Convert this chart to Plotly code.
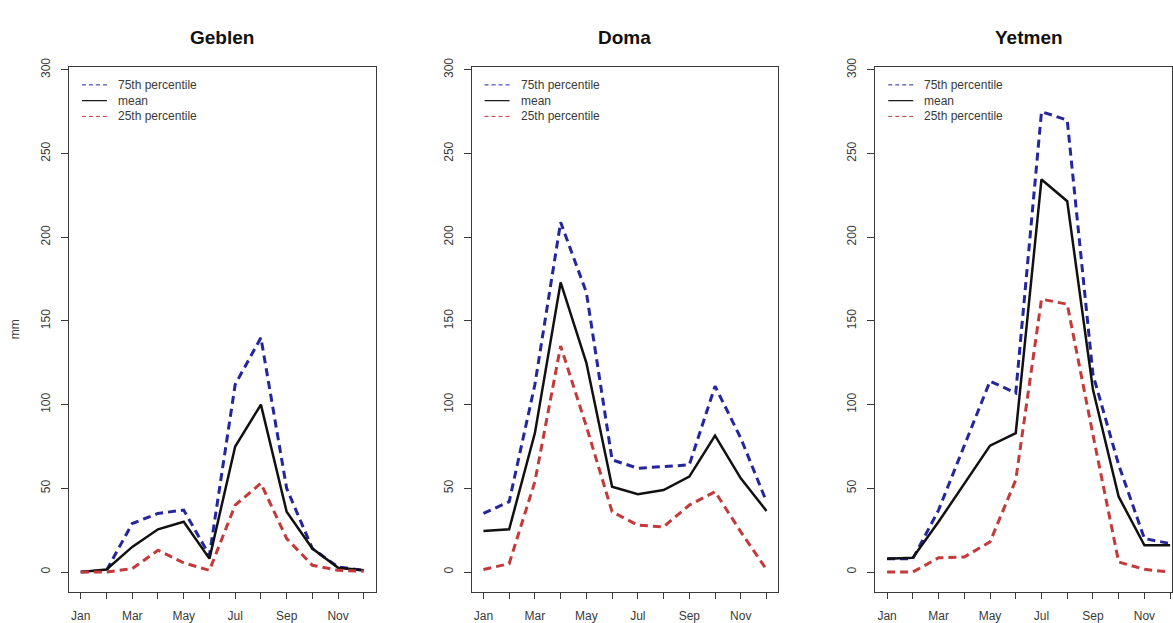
import plotly.graph_objects as go

# ---------------- data ----------------
month_num = list(range(1, 13))
month_labels = ["Jan", "", "Mar", "", "May", "", "Jul", "", "Sep", "", "Nov", ""]
stations = ["Geblen", "Doma", "Yetmen"]

geblen_p75 = [0, 1, 29, 35, 37, 10, 112, 140, 50, 14, 3, 1]
geblen_mean = [0, 1.5, 15, 25.5, 30, 8, 75, 100, 36, 14, 2.5, 1]
geblen_p25 = [0, 0, 2, 13, 5.5, 1, 40, 53, 20, 4, 1, 0.5]

doma_p75 = [35, 42, 112, 209, 167, 67, 62, 63, 64, 111, 80, 42]
doma_mean = [24.5, 25.5, 83, 173, 125, 51, 46.5, 49, 57, 81.5, 56, 36.5]
doma_p25 = [1.5, 5, 54, 135, 87, 36, 28, 27, 40, 48, 24, 1.5]

yetmen_p75 = [8, 8, 37, 76, 114, 107, 275, 270, 118, 64, 20, 17]
yetmen_mean = [8, 8.5, 30, 53, 75.5, 83, 234.5, 221.5, 109, 45, 16, 16]
yetmen_p25 = [0, 0, 8.5, 9, 18, 55, 163, 160, 82, 6, 1.6, 0]

series_names = ["75th percentile", "mean", "25th percentile"]
y_ticks = [0, 50, 100, 150, 200, 250, 300]

data = {
    "Geblen": [geblen_p75, geblen_mean, geblen_p25],
    "Doma": [doma_p75, doma_mean, doma_p25],
    "Yetmen": [yetmen_p75, yetmen_mean, yetmen_p25],
}

# ---------------- styles ----------------
W, H = 1173, 623
BLUE = "#25259c"
RED = "#c43a3a"
BLACK = "#111111"
AXIS = "#3a3a3a"
TXT = "#3a3a3a"
FONT = "Arial, Liberation Sans, sans-serif"
styles = [
    dict(color=BLUE, width=3, dash="8px,5px"),
    dict(color=BLACK, width=2.5, dash="solid"),
    dict(color=RED, width=3, dash="8px,5px"),
]
legend_styles = [
    dict(color=BLUE, width=1, dash="4px,3px"),
    dict(color=BLACK, width=1.2, dash="solid"),
    dict(color=RED, width=1, dash="4px,3px"),
]

# panel boxes in pixels (left, right)
boxes = [(69, 376), (472, 779), (876, 1173)]
top_px, bot_px = 59, 592
px_per_month = 307 / 11.92
x_ranges = [[0.54, 12.46], [0.54, 12.46], [0.54, 0.54 + (1173 - 876) / px_per_month]]
y_range = [-12.2, 301.6]

fig = go.Figure()
annotations = []
shapes = []

for i, name in enumerate(stations):
    ax = "" if i == 0 else str(i + 1)
    for vals, st, sname in zip(data[name], styles, series_names):
        fig.add_trace(go.Scatter(
            x=month_num, y=vals, mode="lines", name=sname,
            line=st, showlegend=False,
            xaxis="x" + ax, yaxis="y" + ax,
        ))
    L, R = boxes[i]
    dom_x = [L / W, R / W]
    dom_y = [(H - bot_px) / H, (H - top_px) / H]
    fig.update_layout(**{
        "xaxis" + ax: dict(
            domain=dom_x, range=x_ranges[i], tickmode="array",
            tickvals=month_num, ticktext=month_labels,
            ticks="outside", ticklen=6, tickcolor=AXIS, tickwidth=1,
            showline=True, linecolor=AXIS, linewidth=1, mirror=True,
            showgrid=False, zeroline=False, anchor="y" + ax,
            ticklabelstandoff=6,
            tickfont=dict(family=FONT, size=12, color=TXT),
        ),
        "yaxis" + ax: dict(
            domain=dom_y, range=y_range, tickmode="array",
            tickvals=y_ticks, tickangle=-90,
            ticks="outside", ticklen=7, tickcolor=AXIS, tickwidth=1,
            showline=True, linecolor=AXIS, linewidth=1, mirror=True,
            showgrid=False, zeroline=False, anchor="x" + ax,
            ticklabelstandoff=6,
            tickfont=dict(family=FONT, size=12, color=TXT),
        ),
    })
    # title
    annotations.append(dict(
        text="<b>%s</b>" % name, xref="paper", yref="paper",
        x=(L + (L + 307)) / 2 / W, y=(H - 29) / H,
        xanchor="center", yanchor="middle", showarrow=False,
        font=dict(family=FONT, size=19, color="#111111"),
    ))
    # legend (key lines + labels)
    for r, (sname, lst) in enumerate(zip(series_names, legend_styles)):
        yy = (H - (77 + 16 * r)) / H
        shapes.append(dict(
            type="line", xref="paper", yref="paper",
            x0=(L + 13) / W, x1=(L + 38) / W, y0=yy, y1=yy,
            line=lst,
        ))
        annotations.append(dict(
            text=sname, xref="paper", yref="paper",
            x=(L + 47) / W, y=yy, xanchor="left", yanchor="middle",
            showarrow=False, font=dict(family=FONT, size=12, color=TXT),
        ))

annotations.append(dict(
    text="mm", xref="paper", yref="paper", x=15 / W, y=(H - 325) / H,
    xanchor="center", yanchor="middle", textangle=-90, showarrow=False,
    font=dict(family=FONT, size=12, color=TXT),
))

fig.update_layout(
    width=W, height=H, margin=dict(l=0, r=0, t=0, b=0),
    paper_bgcolor="white", plot_bgcolor="white",
    annotations=annotations, shapes=shapes, showlegend=False,
)

fig.write_html("out.html")
